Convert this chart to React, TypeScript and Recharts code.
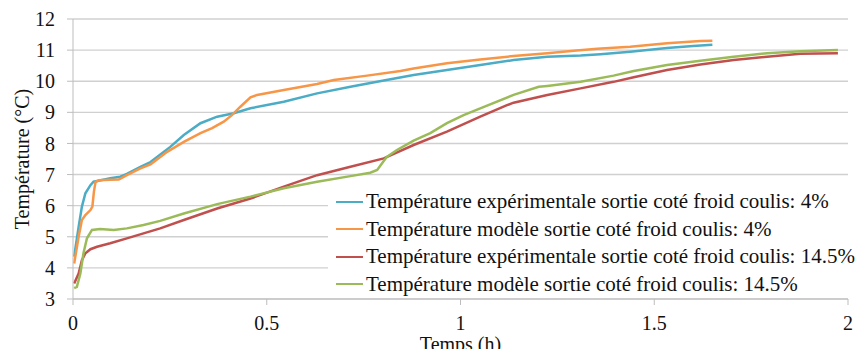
import React from "react";
import { LineChart, Line, XAxis, YAxis, CartesianGrid, Legend } from "recharts";

// temps (h) / température (°C)
const expTime4 = [0.003, 0.0145, 0.023, 0.032, 0.045, 0.053, 0.066, 0.096, 0.122, 0.139, 0.174, 0.2, 0.251, 0.286, 0.329, 0.372, 0.415, 0.458, 0.544, 0.63, 0.716, 0.802, 0.879, 0.965, 1.051, 1.137, 1.224, 1.31, 1.361, 1.438, 1.533, 1.6, 1.65];
const expTemp4 = [4.36, 5.32, 5.97, 6.4, 6.66, 6.77, 6.8, 6.88, 6.93, 7.02, 7.25, 7.4, 7.89, 8.27, 8.65, 8.86, 8.97, 9.13, 9.34, 9.61, 9.82, 10.02, 10.2, 10.36, 10.52, 10.68, 10.79, 10.83, 10.87, 10.95, 11.07, 11.13, 11.17];

const modTime4 = [0.003, 0.0145, 0.023, 0.032, 0.045, 0.05, 0.054, 0.058, 0.066, 0.096, 0.118, 0.139, 0.174, 0.2, 0.243, 0.286, 0.329, 0.359, 0.389, 0.41, 0.432, 0.458, 0.475, 0.544, 0.63, 0.673, 0.759, 0.845, 0.879, 0.965, 1.051, 1.137, 1.224, 1.292, 1.353, 1.438, 1.533, 1.619, 1.65];
const modTemp4 = [4.14, 5.0, 5.54, 5.7, 5.86, 5.97, 6.45, 6.75, 6.82, 6.83, 6.84, 6.98, 7.2, 7.33, 7.73, 8.05, 8.33, 8.49, 8.7, 8.91, 9.18, 9.48, 9.56, 9.72, 9.91, 10.04, 10.18, 10.33, 10.41, 10.58, 10.7, 10.81, 10.9, 10.98, 11.04, 11.11, 11.22, 11.29, 11.3];

const expTime145 = [0.003, 0.0145, 0.023, 0.032, 0.045, 0.062, 0.096, 0.139, 0.182, 0.225, 0.286, 0.372, 0.458, 0.544, 0.63, 0.716, 0.802, 0.879, 0.965, 1.051, 1.12, 1.137, 1.224, 1.31, 1.395, 1.447, 1.533, 1.619, 1.705, 1.791, 1.877, 1.974];
const expTemp145 = [3.5, 3.82, 4.25, 4.47, 4.6, 4.68, 4.79, 4.95, 5.11, 5.27, 5.54, 5.91, 6.23, 6.61, 6.98, 7.25, 7.52, 7.95, 8.38, 8.86, 9.23, 9.31, 9.56, 9.77, 9.98, 10.13, 10.36, 10.54, 10.68, 10.79, 10.88, 10.9];

const modTime145 = [0.003, 0.01, 0.019, 0.027, 0.036, 0.049, 0.07, 0.105, 0.139, 0.182, 0.225, 0.286, 0.372, 0.458, 0.544, 0.63, 0.716, 0.767, 0.785, 0.8, 0.81, 0.836, 0.879, 0.922, 0.965, 1.008, 1.051, 1.137, 1.202, 1.224, 1.31, 1.395, 1.447, 1.533, 1.619, 1.705, 1.791, 1.877, 1.974];
const modTemp145 = [3.35, 3.39, 3.82, 4.47, 4.95, 5.22, 5.25, 5.22, 5.27, 5.38, 5.51, 5.75, 6.05, 6.29, 6.56, 6.77, 6.95, 7.06, 7.15, 7.4, 7.57, 7.79, 8.09, 8.33, 8.65, 8.91, 9.13, 9.56, 9.82, 9.85, 9.98, 10.18, 10.33, 10.52, 10.66, 10.79, 10.9, 10.96, 11.0];

const xTicks = [0, 0.5, 1, 1.5, 2];
const yTicks = [3, 4, 5, 6, 7, 8, 9, 10, 11, 12];

const toPoints = (time: number[], temp: number[]) => time.map((t, i) => ({ t, v: temp[i] }));

const series = [
  { name: "Température expérimentale sortie coté froid coulis: 4%", color: "#4BACC6", data: toPoints(expTime4, expTemp4) },
  { name: "Température modèle sortie coté froid coulis: 4%", color: "#F79646", data: toPoints(modTime4, modTemp4) },
  { name: "Température expérimentale sortie coté froid coulis: 14.5%", color: "#C0504D", data: toPoints(expTime145, expTemp145) },
  { name: "Température modèle sortie coté froid coulis: 14.5%", color: "#9BBB59", data: toPoints(modTime145, modTemp145) },
];
const seriesOrder = series.map((s) => s.name);

const font = "Liberation Serif";
const tickStyle = { fontFamily: font, fontSize: 20, fill: "#111" };

const renderLegend = (props: any) => {
  // garder l'ordre des séries (recharts trie par nom sinon)
  const items = [...props.payload].sort((a: any, b: any) => seriesOrder.indexOf(a.value) - seriesOrder.indexOf(b.value));
  return (
    <div style={{ background: "#fff", paddingLeft: 8, fontFamily: font, fontSize: 21, lineHeight: "27.5px", color: "#111" }}>
      {items.map((entry: any) => (
        <div key={entry.value} style={{ display: "flex", alignItems: "center", whiteSpace: "nowrap" }}>
          <span style={{ display: "inline-block", width: 27, borderTop: `2.5px solid ${entry.color}`, marginRight: 3 }} />
          <span>{entry.value}</span>
        </div>
      ))}
    </div>
  );
};

export default function App() {
  return (
    <div style={{ position: "absolute", left: 0, top: 0, background: "#fff", fontFamily: font }}>
      <LineChart width={857} height={349} margin={{ top: 19, right: 9, left: 0, bottom: 0 }}>
        <CartesianGrid horizontal vertical={false} stroke="#d0d0d0" strokeWidth={1.4} />
        <XAxis
          type="number"
          dataKey="t"
          domain={[0, 2]}
          ticks={xTicks}
          allowDataOverflow
          height={50}
          stroke="#bdbdbd"
          tickSize={6}
          tickMargin={11}
          tick={tickStyle}
          label={{ value: "Temps (h)", position: "insideBottom", offset: -2, style: { fontFamily: font, fontSize: 20, fill: "#111" } }}
        />
        <YAxis
          type="number"
          dataKey="v"
          domain={[3, 12]}
          ticks={yTicks}
          allowDataOverflow
          width={73}
          stroke="#bdbdbd"
          tickSize={6}
          tickMargin={12}
          tick={tickStyle}
          label={{ value: "Température (°C)", angle: -90, position: "insideLeft", offset: 22, style: { textAnchor: "middle", fontFamily: font, fontSize: 20, fill: "#111" } }}
        />
        <Legend
          layout="vertical"
          align="center"
          verticalAlign="middle"
          content={renderLegend}
          wrapperStyle={{ left: 328, top: 188, width: 529 }}
        />
        {series.map((s) => (
          <Line
            key={s.name}
            data={s.data}
            dataKey="v"
            name={s.name}
            type="linear"
            stroke={s.color}
            strokeWidth={2.5}
            dot={false}
            isAnimationActive={false}
          />
        ))}
      </LineChart>
    </div>
  );
}
